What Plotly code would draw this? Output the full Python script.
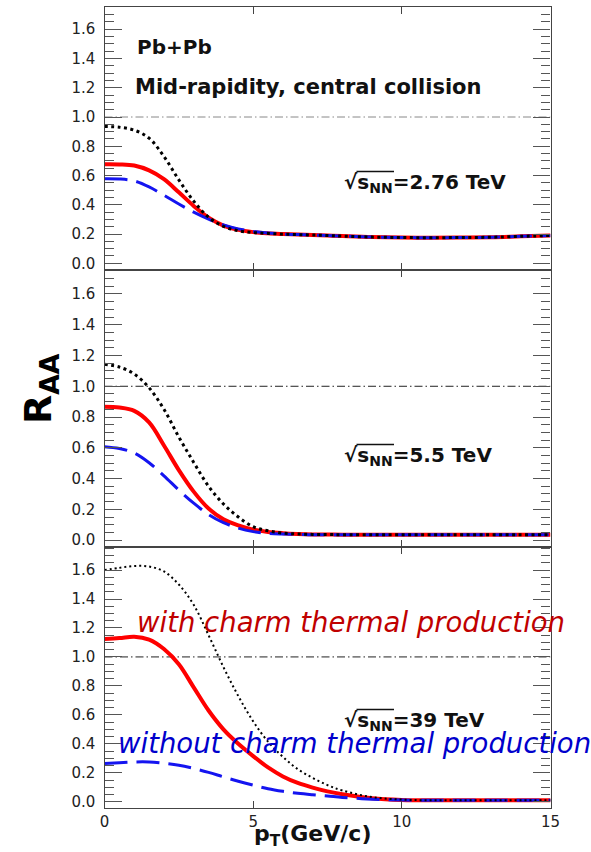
import plotly.graph_objects as go

# ---------------- data ----------------
pT = [0, 0.5, 1, 1.5, 2, 2.5, 3, 3.5, 4, 4.5, 5, 5.5, 6, 6.5, 7, 7.5, 8, 9, 10, 11, 12, 13, 14, 15]

# sqrt(s_NN) = 2.76 TeV
raa_276_dotted = [0.935, 0.93, 0.91, 0.855, 0.73, 0.57, 0.425, 0.315, 0.252, 0.222, 0.21, 0.204, 0.199, 0.196,
                  0.193, 0.19, 0.186, 0.179, 0.176, 0.175, 0.176, 0.178, 0.184, 0.19]
raa_276_with = [0.677, 0.676, 0.668, 0.635, 0.575, 0.485, 0.392, 0.312, 0.258, 0.228, 0.213, 0.205, 0.2, 0.196,
                0.193, 0.19, 0.186, 0.179, 0.176, 0.175, 0.176, 0.178, 0.184, 0.19]
raa_276_without = [0.578, 0.576, 0.563, 0.522, 0.465, 0.405, 0.35, 0.302, 0.262, 0.235, 0.218, 0.207, 0.2, 0.196,
                   0.193, 0.19, 0.186, 0.179, 0.176, 0.175, 0.176, 0.178, 0.184, 0.19]

# sqrt(s_NN) = 5.5 TeV
raa_55_dotted = [1.143, 1.125, 1.08, 0.99, 0.85, 0.67, 0.505, 0.35, 0.235, 0.15, 0.087, 0.06, 0.045, 0.04,
                 0.037, 0.036, 0.035, 0.035, 0.035, 0.035, 0.035, 0.035, 0.035, 0.035]
raa_55_with = [0.867, 0.862, 0.84, 0.765, 0.615, 0.455, 0.315, 0.205, 0.135, 0.095, 0.068, 0.053, 0.045, 0.04,
               0.037, 0.036, 0.035, 0.035, 0.035, 0.035, 0.035, 0.035, 0.035, 0.035]
raa_55_without = [0.607, 0.595, 0.566, 0.503, 0.418, 0.325, 0.24, 0.166, 0.113, 0.078, 0.055, 0.043, 0.039, 0.037,
                  0.035, 0.035, 0.035, 0.035, 0.035, 0.035, 0.035, 0.035, 0.035, 0.035]

# sqrt(s_NN) = 39 TeV
raa_39_dotted = [1.60, 1.615, 1.628, 1.624, 1.59, 1.50, 1.36, 1.15, 0.93, 0.73, 0.555, 0.415, 0.31, 0.225,
                 0.165, 0.115, 0.078, 0.032, 0.015, 0.01, 0.01, 0.01, 0.01, 0.01]
raa_39_with = [1.124, 1.13, 1.14, 1.12, 1.055, 0.95, 0.79, 0.63, 0.5, 0.4, 0.315, 0.237, 0.175, 0.13,
               0.098, 0.072, 0.052, 0.025, 0.013, 0.01, 0.01, 0.01, 0.01, 0.01]
raa_39_without = [0.265, 0.27, 0.275, 0.275, 0.266, 0.252, 0.23, 0.203, 0.172, 0.142, 0.115, 0.09, 0.072, 0.058,
                  0.048, 0.04, 0.03, 0.018, 0.012, 0.01, 0.01, 0.01, 0.01, 0.01]

energies = ["2.76", "5.5", "39"]
y_ticks = [0.0, 0.2, 0.4, 0.6, 0.8, 1.0, 1.2, 1.4, 1.6]
x_ticks = [0, 5, 10, 15]
ref_line = [1.0, 1.0]
ref_x = [0, 15]

panels = [
    (raa_276_with, raa_276_without, raa_276_dotted),
    (raa_55_with, raa_55_without, raa_55_dotted),
    (raa_39_with, raa_39_without, raa_39_dotted),
]

# ---------------- layout geometry ----------------
W, H = 591, 852
x_dom = [104.5 / W, 550.5 / W]
rows_px = [(7.3, 270.0), (270.0, 547.3), (547.3, 807.7)]
y_ranges = [[-0.046, 1.750], [-0.047, 1.756], [-0.041, 1.757]]

FRAME = "#444444"
TICKC = "#555555"
FONT = "DejaVu Sans"

fig = go.Figure()

for i, (w, wo, dot) in enumerate(panels):
    n = i + 1
    xa = "x" if n == 1 else f"x{n}"
    ya = "y" if n == 1 else f"y{n}"
    ref_col = "#888888" if i == 0 else "#222222"
    fig.add_trace(go.Scatter(x=ref_x, y=ref_line, mode="lines", xaxis=xa, yaxis=ya,
                             line=dict(color=ref_col, width=1, dash="8px,3px,1.5px,3px"),
                             hoverinfo="skip", showlegend=False))
    fig.add_trace(go.Scatter(x=pT, y=w, mode="lines", xaxis=xa, yaxis=ya,
                             line=dict(color="#FF0000", width=4, shape="spline", smoothing=1.0),
                             showlegend=False))
    fig.add_trace(go.Scatter(x=pT, y=wo, mode="lines", xaxis=xa, yaxis=ya,
                             line=dict(color="#1414F0", width=3, dash="23px,9px", shape="spline", smoothing=1.0),
                             showlegend=False))
    dot_w = 3 if i < 2 else 2
    dot_dash = "3px,3.5px" if i < 2 else "2px,3px"
    fig.add_trace(go.Scatter(x=pT, y=dot, mode="lines", xaxis=xa, yaxis=ya,
                             line=dict(color="#000000", width=dot_w, dash=dot_dash, shape="spline", smoothing=1.0),
                             showlegend=False))

    top, bot = rows_px[i]
    ydom = [1 - bot / H, 1 - top / H]
    xkey = "xaxis" if n == 1 else f"xaxis{n}"
    ykey = "yaxis" if n == 1 else f"yaxis{n}"
    fig.update_layout(**{
        xkey: dict(domain=x_dom, range=[0, 15], anchor=ya, showgrid=False, zeroline=False,
                   automargin=False,
                   showline=True, linecolor=FRAME, linewidth=1, mirror="ticks",
                   ticks="inside", ticklen=7, tickcolor=FRAME, tickwidth=1.2,
                   tickvals=x_ticks, ticktext=[str(v) for v in x_ticks],
                   showticklabels=(n == 3),
                   tickfont=dict(family=FONT, size=15, color="#222222")),
        ykey: dict(domain=ydom, range=y_ranges[i], anchor=xa, showgrid=False, zeroline=False,
                   automargin=False,
                   showline=True, linecolor=FRAME, linewidth=1.2, mirror="ticks",
                   ticks="inside", ticklen=17, tickcolor=TICKC, tickwidth=1.2,
                   tickvals=y_ticks, ticktext=[f"{v:.1f}" for v in y_ticks],
                   ticklabelstandoff=5,
                   tickfont=dict(family=FONT, size=15, color="#222222"),
                   minor=dict(dtick=0.05, tick0=0, ticks="inside", ticklen=9,
                              tickcolor=TICKC, tickwidth=1.2, showgrid=False)),
    })


def px2paper(px, py):
    return px / W, 1 - py / H


annos = []
shapes = []
x0, y0 = px2paper(135, 47)
annos.append(dict(x=x0, y=y0, text="<b>Pb+Pb</b>", xanchor="left", yanchor="middle",
                  font=dict(family=FONT, size=20, color="#111111")))
x0, y0 = px2paper(133, 87)
annos.append(dict(x=x0, y=y0, text="<b>Mid-rapidity, central collision</b>", xanchor="left", yanchor="middle",
                  font=dict(family=FONT, size=21, color="#111111")))

for e, py in zip(energies, [183, 456, 721]):
    x0, y0 = px2paper(342, py)
    annos.append(dict(x=x0, y=y0,
                      text=f"<b>√s<sub>NN</sub>={e} TeV</b>",
                      xanchor="left", yanchor="middle",
                      font=dict(family=FONT, size=20, color="#111111")))
    # vinculum of the square-root sign
    sx0, sy = px2paper(356.5, py - 11.5)
    sx1, _ = px2paper(394, py - 11.5)
    shapes.append(dict(type="line", xref="paper", yref="paper", x0=sx0, x1=sx1, y0=sy, y1=sy,
                       line=dict(color="#111111", width=1.5)))

x0, y0 = px2paper(135, 622)
annos.append(dict(x=x0, y=y0, text="<i>with charm thermal production</i>", xanchor="left", yanchor="middle",
                  font=dict(family=FONT, size=27.5, color="#C00000")))
x0, y0 = px2paper(116, 743)
annos.append(dict(x=x0, y=y0, text="<i>without charm thermal production</i>", xanchor="left", yanchor="middle",
                  font=dict(family=FONT, size=27.5, color="#0000CC")))

x0, y0 = px2paper(40, 389)
annos.append(dict(x=x0, y=y0, text="<b>R<sub>AA</sub></b>", textangle=-90, xanchor="center", yanchor="middle",
                  font=dict(family=FONT, size=38, color="#000000")))
x0, y0 = px2paper(252, 835)
annos.append(dict(x=x0, y=y0, text="<b>p<sub>T</sub>(GeV/c)</b>", xanchor="left", yanchor="middle",
                  font=dict(family=FONT, size=22, color="#111111")))

for a in annos:
    a.update(xref="paper", yref="paper", showarrow=False)

fig.update_layout(width=W, height=H, margin=dict(l=0, r=0, t=0, b=0, pad=0), autosize=False,
                  paper_bgcolor="white", plot_bgcolor="white",
                  showlegend=False, annotations=annos, shapes=shapes)

fig.write_html("out.html")
